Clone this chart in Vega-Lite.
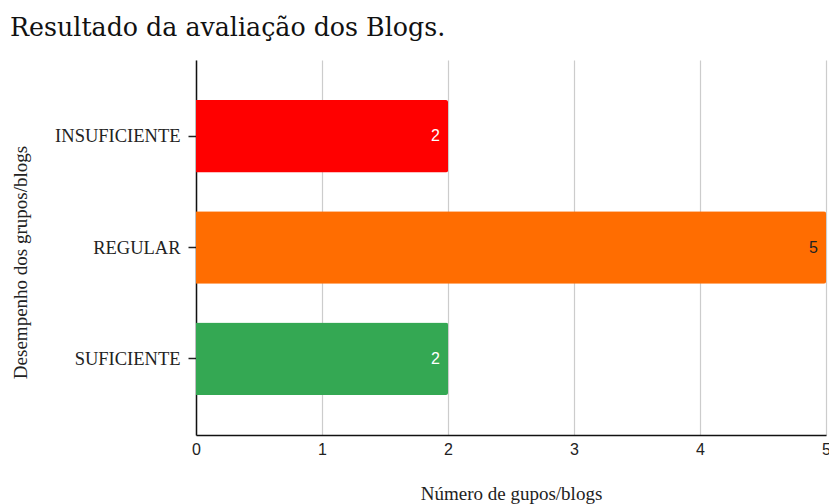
{
  "$schema": "https://vega.github.io/schema/vega-lite/v6.json",
  "autosize": "none",
  "width": 630,
  "height": 375,
  "padding": {"left": 196, "top": 60, "right": 3, "bottom": 69},
  "background": "white",
  "title": {
    "text": "Resultado da avaliação dos Blogs.",
    "anchor": "start",
    "frame": "group",
    "dx": -186,
    "offset": 19,
    "font": "DejaVu Serif",
    "fontSize": 25.3,
    "fontWeight": "normal",
    "color": "#111111"
  },
  "data": {
    "values": [
      {"desempenho": "INSUFICIENTE", "numero": 2},
      {"desempenho": "REGULAR", "numero": 5},
      {"desempenho": "SUFICIENTE", "numero": 2}
    ]
  },
  "encoding": {
    "y": {
      "field": "desempenho",
      "type": "nominal",
      "sort": ["INSUFICIENTE", "REGULAR", "SUFICIENTE"],
      "scale": {"paddingInner": 0.35, "paddingOuter": 0.36},
      "axis": {
        "title": "Desempenho dos grupos/blogs",
        "titleFont": "Liberation Serif",
        "titleFontSize": 19,
        "titleFontWeight": "normal",
        "titleColor": "#222222",
        "titleX": -176,
        "titleY": 202,
        "titleBaseline": "middle",
        "labelFont": "Liberation Serif",
        "labelFontSize": 18.5,
        "labelColor": "#222222",
        "labelPadding": 8,
        "tickSize": 8,
        "tickColor": "#222222",
        "tickWidth": 1.5,
        "domainColor": "#111111",
        "domainWidth": 1.5,
        "grid": false
      }
    },
    "x": {
      "field": "numero",
      "type": "quantitative",
      "scale": {"domain": [0, 5], "nice": false},
      "axis": {
        "title": "Número de gupos/blogs",
        "titleFont": "Liberation Serif",
        "titleFontSize": 19,
        "titleFontWeight": "normal",
        "titleColor": "#222222",
        "titlePadding": 27,
        "labelFont": "Liberation Sans",
        "labelFontSize": 16,
        "labelColor": "#222222",
        "labelPadding": 6,
        "labelFlush": false,
        "tickCount": 5,
        "ticks": false,
        "domainColor": "#111111",
        "domainWidth": 1.5,
        "gridColor": "#cccccc",
        "gridWidth": 1.2
      }
    }
  },
  "layer": [
    {
      "mark": {"type": "bar", "cornerRadiusEnd": 2},
      "encoding": {
        "color": {
          "field": "desempenho",
          "type": "nominal",
          "scale": {
            "domain": ["INSUFICIENTE", "REGULAR", "SUFICIENTE"],
            "range": ["#ff0000", "#ff6d01", "#34a853"]
          },
          "legend": null
        }
      }
    },
    {
      "mark": {"type": "text", "align": "right", "dx": -8, "font": "Liberation Sans", "fontSize": 16},
      "encoding": {
        "text": {"field": "numero", "type": "quantitative"},
        "color": {
          "condition": {"test": "datum.desempenho === 'REGULAR'", "value": "#222222"},
          "value": "#ffffff"
        }
      }
    }
  ],
  "config": {
    "view": {"stroke": null}
  }
}
